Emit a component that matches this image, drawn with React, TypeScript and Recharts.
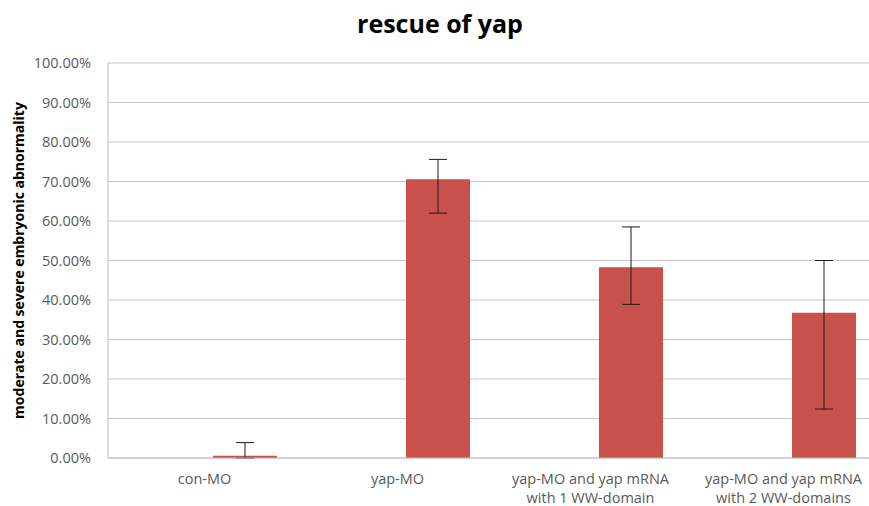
import React from "react";
import { BarChart, Bar, XAxis, YAxis, CartesianGrid, ErrorBar } from "recharts";

const categories = [
  "con-MO",
  "yap-MO",
  "yap-MO and yap mRNA\nwith 1 WW-domain",
  "yap-MO and yap mRNA\nwith 2 WW-domains",
];
const abnormality = [0.6, 70.6, 48.3, 36.8];
const errorLow = [0.6, 8.6, 9.4, 24.4];
const errorHigh = [3.3, 5.0, 10.2, 13.2];
const yTicks = [0, 10, 20, 30, 40, 50, 60, 70, 80, 90, 100];

// Excel kept an empty first series in each cluster, which pushes the bars right
const data = categories.map((name, i) => ({
  name,
  empty: null,
  value: abnormality[i],
  err: [errorLow[i], errorHigh[i]],
}));

const FONT = "'Open Sans', sans-serif";

function CategoryTick(props: any) {
  const { x, y, payload } = props;
  const lines = String(payload.value).split("\n");
  return (
    <text x={x} y={y} textAnchor="middle" fill="#595959" fontSize={14.5} fontFamily={FONT}>
      {lines.map((line, i) => (
        <tspan key={i} x={x} dy={i === 0 ? 26 : 19}>
          {line}
        </tspan>
      ))}
    </text>
  );
}

function YTitle(props: any) {
  const { viewBox } = props;
  const cx = viewBox.x + 18;
  const cy = viewBox.y + viewBox.height / 2;
  return (
    <text
      x={cx}
      y={cy}
      transform={`rotate(-90, ${cx}, ${cy})`}
      textAnchor="middle"
      dominantBaseline="central"
      fontSize={14}
      fontWeight="bold"
      fontFamily={FONT}
      fill="#000"
    >
      moderate and severe embryonic abnormality
    </text>
  );
}

export default function App() {
  return (
    <div style={{ position: "relative", width: 869, height: 506, overflow: "hidden", background: "#fff" }}>
      <style>{`body { margin: 0; }`}</style>
      <div
        style={{
          position: "absolute",
          top: 6,
          left: 440,
          transform: "translateX(-50%)",
          fontFamily: FONT,
          fontWeight: "bold",
          fontSize: 25,
          color: "#000",
          whiteSpace: "nowrap",
        }}
      >
        rescue of yap
      </div>
      <BarChart
        width={880}
        height={506}
        data={data}
        margin={{ top: 63, right: 0, bottom: 0, left: 0 }}
        barSize={64}
        barGap={16}
      >
        <CartesianGrid vertical={false} stroke="#c6c6c6" />
        <XAxis
          dataKey="name"
          interval={0}
          height={48}
          tickLine={false}
          tickSize={0}
          tickMargin={0}
          stroke="#bfbfbf"
          tick={<CategoryTick />}
        />
        <YAxis
          width={108}
          domain={[0, 100]}
          ticks={yTicks}
          tickLine={false}
          tickSize={0}
          tickMargin={17}
          stroke="#bfbfbf"
          tick={{ fill: "#595959", fontSize: 14.5, fontFamily: FONT }}
          tickFormatter={(v) => `${v.toFixed(2)}%`}
          label={<YTitle />}
        />
        <Bar dataKey="empty" fill="#c0504d" isAnimationActive={false} />
        <Bar dataKey="value" fill="#c8514b" isAnimationActive={false}>
          <ErrorBar dataKey="err" width={9} stroke="#1a1a1a" strokeWidth={1} direction="y" />
        </Bar>
      </BarChart>
    </div>
  );
}
